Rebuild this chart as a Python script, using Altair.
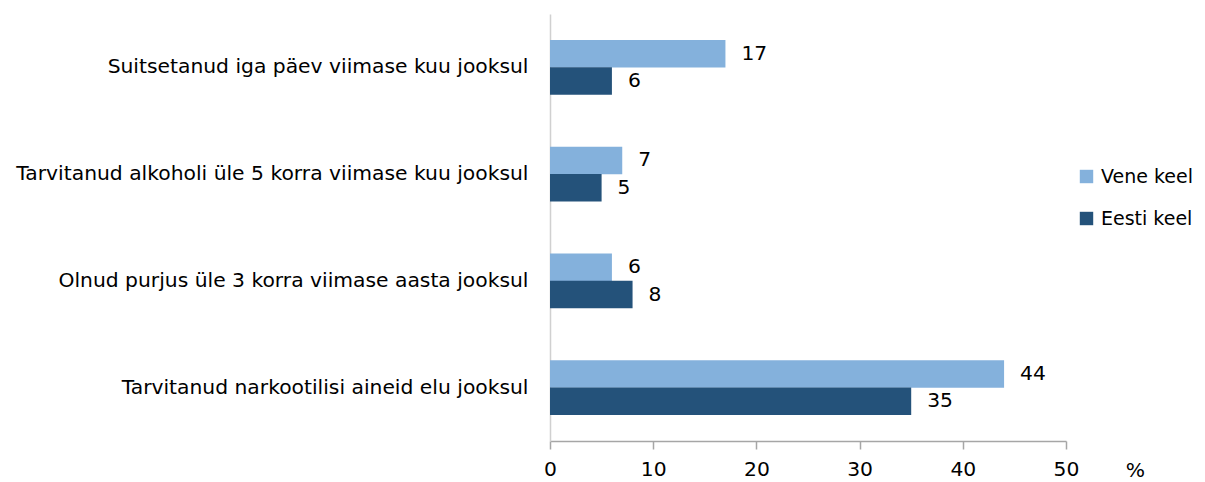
import altair as alt
import pandas as pd

categories = [
    "Suitsetanud iga päev viimase kuu jooksul",
    "Tarvitanud alkoholi üle 5 korra viimase kuu jooksul",
    "Olnud purjus üle 3 korra viimase aasta jooksul",
    "Tarvitanud narkootilisi aineid elu jooksul",
]
series = ["Vene keel", "Eesti keel"]
vene = [17, 7, 6, 44]
eesti = [6, 5, 8, 35]
colors = ["#84B1DC", "#24527A"]
x_ticks = [0, 10, 20, 30, 40, 50]

rows = []
for c, v, e in zip(categories, vene, eesti):
    rows.append({"cat": c, "keel": series[0], "val": v})
    rows.append({"cat": c, "keel": series[1], "val": e})
df = pd.DataFrame(rows)

FONT = "DejaVu Sans"
FS = 20.3

base = alt.Chart(df).encode(
    y=alt.Y("cat:N", sort=categories,
            scale=alt.Scale(paddingInner=0.485, paddingOuter=0.2425),
            axis=alt.Axis(title=None, ticks=False, labelPadding=22, labelFontSize=FS,
                          labelFont=FONT, labelColor="#000", domainColor="#d0d0d0",
                          domainWidth=1.5, labelLimit=600)),
    yOffset=alt.YOffset("keel:N", sort=series, scale=alt.Scale(paddingInner=0, paddingOuter=0)),
    x=alt.X("val:Q", scale=alt.Scale(domain=[0, 50], nice=False),
            axis=alt.Axis(values=x_ticks, title="%", grid=False, tickSize=8,
                          tickColor="#a6a6a6", domainColor="#a6a6a6", domainWidth=1.5,
                          tickWidth=1.5, labelFontSize=FS, labelFont=FONT, labelColor="#000",
                          labelPadding=10, labelFlush=False, titleFont=FONT, titleFontSize=FS,
                          titleFontWeight="normal", titleColor="#000",
                          titleX=585, titleY=35, titleBaseline="alphabetic",
                          titleAnchor="start", titleAlign="center")),
)

bars = base.mark_bar(size=27.5).encode(
    color=alt.Color("keel:N", sort=series,
                    scale=alt.Scale(domain=series, range=colors),
                    legend=alt.Legend(title=None, orient="none", legendX=527, legendY=153,
                                      symbolType="square", symbolSize=180,
                                      symbolStrokeWidth=0, labelFont=FONT,
                                      labelFontSize=19, labelColor="#000",
                                      labelLimit=300,
                                      rowPadding=22, labelOffset=5)),
)

labels = base.mark_text(align="left", baseline="middle", dx=16, fontSize=FS,
                        font=FONT, color="#000").encode(text="val:Q")

chart = (bars + labels).properties(
    width=516, height=427,
    autosize=alt.AutoSizeParams(type="none"),
    padding={"left": 542, "top": 6, "right": 130, "bottom": 40},
).configure(background="white").configure_view(stroke=None)

chart.save("out.html", embed_options={"renderer": "svg", "actions": False})
